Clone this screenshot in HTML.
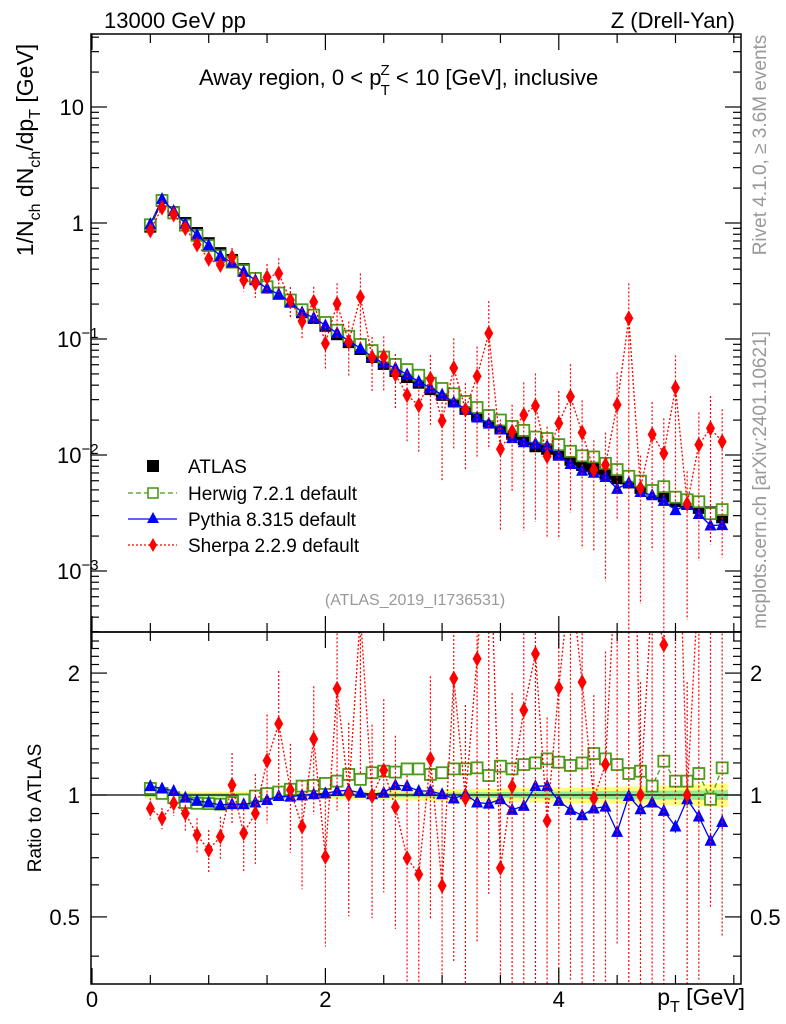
<!DOCTYPE html>
<html><head><meta charset="utf-8"><style>
html,body{margin:0;padding:0;background:#fff;overflow:hidden;width:786px;height:1024px;}
svg{display:block;font-family:"Liberation Sans",sans-serif;}
</style></head><body>
<svg id="c" width="786" height="1024" viewBox="0 0 786 1024" xmlns="http://www.w3.org/2000/svg">
<defs>
<clipPath id="cm"><rect x="91" y="34" width="650" height="598"/></clipPath>
<clipPath id="cr"><rect x="91" y="632" width="650" height="352"/></clipPath>
</defs>
<g id="bands" clip-path="url(#cr)"></g>
<g id="marks-main" clip-path="url(#cm)"></g>
<g id="marks-ratio" clip-path="url(#cr)"></g>
<g id="axes"></g>
<text x="104" y="28" font-size="22">13000 GeV pp</text>
<text x="735" y="28" font-size="22" text-anchor="end">Z (Drell-Yan)</text>
<text x="199" y="85" font-size="22">Away region, 0 &lt; p<tspan font-size="15" dy="-10" dx="-1">Z</tspan><tspan font-size="15" dy="20" dx="-9">T</tspan><tspan dy="-10"> &lt; 10 [GeV], inclusive</tspan></text>
<text transform="translate(766,145) rotate(-90)" font-size="19" fill="#999" text-anchor="middle">Rivet 4.1.0, ≥ 3.6M events</text>
<text transform="translate(766,480) rotate(-90)" font-size="19" fill="#999" text-anchor="middle">mcplots.cern.ch [arXiv:2401.10621]</text>
<text x="415" y="605" font-size="16" fill="#999" text-anchor="middle">(ATLAS_2019_I1736531)</text>
<text transform="translate(33,150) rotate(-90)" font-size="23" text-anchor="middle">1/N<tspan font-size="16" dy="7">ch</tspan><tspan dy="-7"> dN</tspan><tspan font-size="16" dy="7">ch</tspan><tspan dy="-7">/dp</tspan><tspan font-size="16" dy="7">T</tspan><tspan dy="-7"> [GeV]</tspan></text>
<text transform="translate(41,808) rotate(-90)" font-size="19" text-anchor="middle">Ratio to ATLAS</text>
<text x="745" y="1005" font-size="23" text-anchor="end">p<tspan font-size="16" dy="7">T</tspan><tspan dy="-7"> [GeV]</tspan></text>
<g id="legend">
<g><rect x="147" y="460" width="12" height="12" fill="#000"/><text x="188" y="473" font-size="19">ATLAS</text></g>
<g><line x1="128" y1="493" x2="177" y2="493" stroke="#4c9a1a" stroke-width="1.3" stroke-dasharray="5,3"/><rect x="148" y="488" width="10" height="10" fill="#fff" stroke="#4c9a1a" stroke-width="1.6"/><text x="188" y="500" font-size="19">Herwig 7.2.1 default</text></g>
<g><line x1="128" y1="519" x2="177" y2="519" stroke="#0000ff" stroke-width="1.3"/><polygon points="153,512 159,523 147,523" fill="#0000ff"/><text x="188" y="526" font-size="19">Pythia 8.315 default</text></g>
<g><line x1="128" y1="545" x2="177" y2="545" stroke="#ff0000" stroke-width="1.3" stroke-dasharray="2,2"/><polygon points="153,538 157,545 153,552 149,545" fill="#ff0000"/><text x="188" y="552" font-size="19">Sherpa 2.2.9 default</text></g>
</g>
</svg>
<script>
const pT = [0.5,0.6,0.7,0.8,0.9,1.0,1.1,1.2,1.3,1.4,1.5,1.6,1.7,1.8,1.9,2.0,2.1,2.2,2.3,2.4,2.5,2.6,2.7,2.8,2.9,3.0,3.1,3.2,3.3,3.4,3.5,3.6,3.7,3.8,3.9,4.0,4.1,4.2,4.3,4.4,4.5,4.6,4.7,4.8,4.9,5.0,5.1,5.2,5.3,5.4];
const atlas = [0.93,1.55,1.24,1.0,0.82,0.67,0.55,0.48,0.40,0.335,0.28,0.245,0.21,0.17,0.152,0.13,0.11,0.094,0.082,0.070,0.061,0.053,0.047,0.042,0.037,0.033,0.029,0.025,0.022,0.0196,0.017,0.0152,0.0137,0.0119,0.0113,0.0102,0.0091,0.0082,0.0076,0.0069,0.0063,0.0058,0.0052,0.0047,0.0044,0.0040,0.0038,0.0035,0.0032,0.0029];
const herwigRatio = [1.038,1.009,0.985,0.958,0.954,0.952,0.949,0.958,0.972,0.994,1.008,1.017,1.033,1.052,1.056,1.068,1.082,1.124,1.093,1.135,1.145,1.139,1.16,1.16,1.124,1.135,1.16,1.16,1.167,1.117,1.178,1.16,1.189,1.2,1.228,1.205,1.183,1.2,1.266,1.228,1.189,1.13,1.145,1.052,1.212,1.082,1.082,1.13,0.976,1.167];
const pythiaRatio = [1.052,1.038,1.023,0.985,0.967,0.958,0.945,0.949,0.949,0.958,0.972,0.994,0.991,0.998,1.004,1.009,1.023,1.027,1.013,1.004,1.013,1.058,1.052,1.023,1.023,1.004,0.98,1.004,0.958,0.952,0.976,0.919,0.94,1.052,1.052,0.967,0.919,0.891,0.926,0.936,0.811,0.994,0.922,0.958,0.914,0.836,0.976,0.885,0.771,0.858];
const sherpaRatio = [0.926,0.876,0.954,0.901,0.796,0.732,0.789,1.058,0.805,0.901,1.216,1.499,1.029,0.836,1.375,0.704,1.83,1.004,2.8,0.994,1.15,0.934,0.699,0.637,1.228,0.597,1.94,0.981,2.17,5.7,0.661,1.05,1.62,2.23,0.863,1.84,3.5,1.9,0.98,1.19,4.3,26,1.0,3.2,2.35,9.5,1.0,3.5,5.3,4.5];
const sherpaErr = [0.06,0.06,0.07,0.1,0.1,0.12,0.12,0.2,0.2,0.25,0.3,0.35,0.3,0.3,0.35,0.4,0.5,0.5,0.6,0.5,0.5,0.5,0.6,0.6,0.6,0.7,0.8,0.7,0.8,0.9,0.8,0.7,0.9,0.9,0.8,0.9,0.9,0.9,0.8,0.9,0.9,1.0,0.9,0.9,1.0,0.9,0.9,0.9,0.9,0.9];
const pythiaErr = [0.01,0.01,0.01,0.01,0.01,0.01,0.01,0.01,0.01,0.01,0.01,0.01,0.01,0.01,0.01,0.01,0.01,0.01,0.01,0.01,0.01,0.01,0.01,0.01,0.01,0.01,0.01,0.01,0.01,0.01,0.015,0.015,0.02,0.02,0.02,0.02,0.02,0.025,0.025,0.025,0.03,0.03,0.03,0.03,0.035,0.035,0.035,0.04,0.04,0.04];
const atlasStat = [0.01,0.01,0.01,0.01,0.01,0.01,0.01,0.01,0.01,0.01,0.01,0.01,0.01,0.01,0.01,0.01,0.01,0.01,0.012,0.012,0.012,0.012,0.013,0.013,0.014,0.014,0.015,0.015,0.016,0.016,0.017,0.017,0.018,0.018,0.019,0.02,0.02,0.021,0.022,0.022,0.023,0.024,0.024,0.025,0.025,0.026,0.026,0.027,0.028,0.028];
const atlasTot = [0.02,0.02,0.02,0.02,0.02,0.02,0.02,0.02,0.02,0.02,0.02,0.02,0.02,0.022,0.022,0.023,0.024,0.025,0.026,0.027,0.028,0.029,0.03,0.031,0.032,0.033,0.034,0.035,0.036,0.037,0.038,0.039,0.04,0.041,0.042,0.043,0.044,0.045,0.046,0.047,0.048,0.05,0.052,0.054,0.056,0.058,0.06,0.062,0.064,0.066];
const xTicks = ["0","2","4"];
const mainTicks = ["10","1","10^-1","10^-2","10^-3"];
const ratioTicks = ["2","1","0.5"];

const NS="http://www.w3.org/2000/svg";
const X0=91,X1=741,XMAX=5.57;
function X(v){return X0+1+v*(X1-X0)/XMAX;}
function Ym(v){return 223-116*Math.log10(v);}
function Yr(r){return 795-405*Math.log10(r);}
function mk(tag,attrs,parent){const e=document.createElementNS(NS,tag);for(const k in attrs)e.setAttribute(k,attrs[k]);parent.appendChild(e);return e;}
const gM=document.getElementById('marks-main'),gR=document.getElementById('marks-ratio'),gA=document.getElementById('axes'),gB=document.getElementById('bands');

const hw=0.05;
let up=[],lo=[],up2=[],lo2=[];
pT.forEach((p,i)=>{const a=X(p-hw),b=X(p+hw);up.push(a+","+Yr(1+atlasTot[i]),b+","+Yr(1+atlasTot[i]));lo.unshift(b+","+Yr(1-atlasTot[i]),a+","+Yr(1-atlasTot[i]));up2.push(a+","+Yr(1+atlasStat[i]),b+","+Yr(1+atlasStat[i]));lo2.unshift(b+","+Yr(1-atlasStat[i]),a+","+Yr(1-atlasStat[i]));});
const yb=mk('polygon',{points:up.concat(lo).join(' '),fill:'#ffff80'},gB);


const gb=mk('polygon',{points:up2.concat(lo2).join(' '),fill:'#90ee90'},gB);


const one=mk('line',{x1:X0,x2:X1,y1:Yr(1),y2:Yr(1),stroke:'#000','stroke-width':1.3},gB);



function series(g,vals,Yf,color,dash,shape,name,errs){
  const pts=pT.map((p,i)=>X(p)+","+Yf(vals[i])).join(' ');
  const pl=mk('polyline',{points:pts,fill:'none',stroke:color,'stroke-width':1.3,'stroke-dasharray':dash},g);
  
  
  pT.forEach((p,i)=>{
    const x=X(p),y=Yf(vals[i]);let e;
    if(errs){const l=mk('line',{x1:x,x2:x,y1:Yf(vals[i]*(1+errs[i])),y2:Yf(Math.max(vals[i]*(1-errs[i]),1e-6)),stroke:color,'stroke-width':1.2,'stroke-dasharray':dash},g);
      
      }
    if(shape==='sq')e=mk('rect',{x:x-5.5,y:y-5.5,width:11,height:11,fill:'#fff',stroke:color,'stroke-width':1.8},g);
    else if(shape==='fsq')e=mk('rect',{x:x-6,y:y-6,width:12,height:12,fill:color},g);
    else if(shape==='tri')e=mk('polygon',{points:`${x},${y-7} ${x+6},${y+5} ${x-6},${y+5}`,fill:color},g);
    else e=mk('polygon',{points:`${x},${y-8} ${x+4.5},${y} ${x},${y+8} ${x-4.5},${y}`,fill:color},g);
    
    
  });
}
series(gM,atlas,Ym,'#000','none','fsq','atlas',null);
series(gM,atlas.map((v,i)=>v*herwigRatio[i]),Ym,'#4c9a1a','5,3','sq','herwig',null);
series(gM,atlas.map((v,i)=>v*pythiaRatio[i]),Ym,'#0000ff','none','tri','pythia',null);
series(gM,atlas.map((v,i)=>v*sherpaRatio[i]),Ym,'#ff0000','2,2','dia','sherpa',sherpaErr);
series(gR,herwigRatio,Yr,'#4c9a1a','5,3','sq','herwig-ratio',null);
series(gR,pythiaRatio,Yr,'#0000ff','none','tri','pythia-ratio',pythiaErr);
series(gR,sherpaRatio,Yr,'#ff0000','2,2','dia','sherpa-ratio',sherpaErr);

[[34,632],[632,984]].forEach((f,k)=>{const r=mk('rect',{x:X0,y:f[0],width:X1-X0,height:f[1]-f[0],fill:'none',stroke:'#000','stroke-width':1.5},gA);
  
  });
function tick(x1,y1,x2,y2){mk('line',{x1,y1,x2,y2,stroke:'#000','stroke-width':1.2},gA);}
for(let v=0;v<=5.5+1e-9;v+=0.5){const x=X(v),maj=Math.abs(v-Math.round(v/2)*2)<1e-9;const L=maj?16:9;
  tick(x,984,x,984-L);tick(x,632,x,632-L);tick(x,632,x,632+L);tick(x,34,x,34+L);}
xTicks.forEach(t=>{const e=mk('text',{x:X(+t),y:1007,'font-size':22,'text-anchor':'middle'},gA);e.textContent=t;
  
  });
for(let d=-4;d<=1;d++)for(let m=1;m<=9;m++){const v=m*Math.pow(10,d);const y=Ym(v);if(y<34||y>632)continue;const L=m===1?16:8;tick(X0,y,X0+L,y);tick(X1,y,X1-L,y);}
mainTicks.forEach(t=>{const isE=t.startsWith('10^');const v=isE?Math.pow(10,+t.slice(3)):+t;const y=Ym(v)+8;
  const e=mk('text',{x:isE?57:84,y,'font-size':22,'text-anchor':isE?'start':'end'},gA);
  if(isE){e.textContent='10';const s=mk('tspan',{'font-size':15,dy:-9},e);s.textContent=t.slice(3).replace('-','−');}else e.textContent=t;
  
  });
for(let v=0.4;v<=2.5;v+=0.1){const y=Yr(v);if(y<632||y>984)continue;const maj=Math.abs(v-0.5)<1e-6||Math.abs(v-1)<1e-6||Math.abs(v-2)<1e-6;const L=maj?16:8;tick(X0,y,X0+L,y);tick(X1,y,X1-L,y);}
ratioTicks.forEach(t=>{const y=Yr(+t)+8;
  const e=mk('text',{x:80,y,'font-size':22,'text-anchor':'end'},gA);e.textContent=t;
  
  
  const f=mk('text',{x:750,y,'font-size':22},gA);f.textContent=t;
  
  });
</script>
</body></html>
